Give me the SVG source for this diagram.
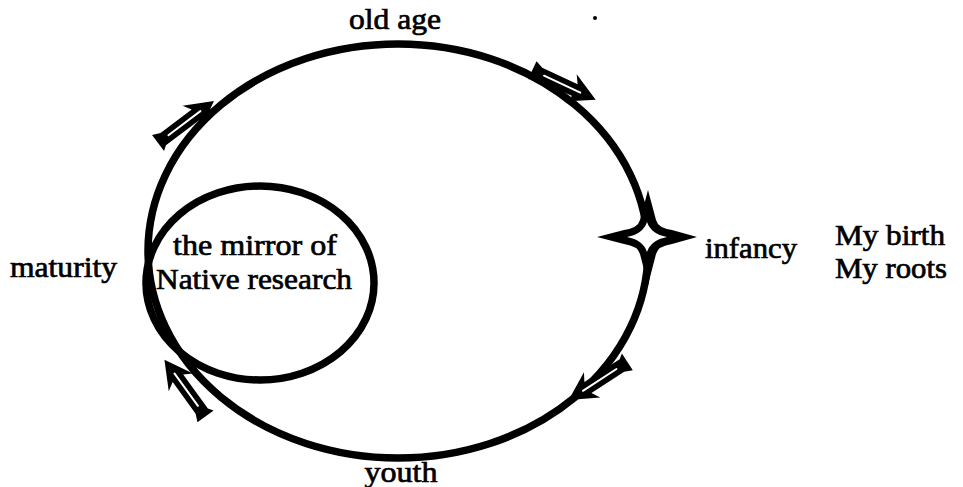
<svg xmlns="http://www.w3.org/2000/svg" width="963" height="487" viewBox="0 0 963 487">
  <style>
    .lbl { font-family: "Liberation Serif", "Times New Roman", serif; font-size: 30px; fill: #000; stroke: #000; stroke-width: 0.7px; }
    .ring { fill: none; stroke: #000; stroke-width: 7.5; }
    .slit { stroke: #fff; stroke-width: 2; stroke-linecap: round; }
  </style>
  <defs>
    <g id="arrow">
      <polygon points="-35,-10 -27,-6.5 12,-6.5 7,-15 35,0 7,15 12,6.5 -30,6.5 -35,10" fill="#000"/>
      <line class="slit" x1="-22" y1="0" x2="18" y2="0"/>
    </g>
  </defs>
  <rect width="963" height="487" fill="#fff"/>
  <g id="cycle">
    <ellipse class="ring" cx="398" cy="251" rx="250" ry="207"/>
  </g>
  <g id="mirror">
    <ellipse class="ring" cx="260" cy="283" rx="114" ry="97"/>
    <text class="lbl" x="255" y="255" text-anchor="middle" textLength="164" lengthAdjust="spacingAndGlyphs">the mirror of</text>
    <text class="lbl" x="254" y="289" text-anchor="middle" textLength="196" lengthAdjust="spacingAndGlyphs">Native research</text>
  </g>
  <g id="connectors">
    <use href="#arrow" transform="translate(564,85) rotate(25)"/>
    <use href="#arrow" transform="translate(598,381) rotate(147)"/>
    <use href="#arrow" transform="translate(185,388) rotate(-126)"/>
    <use href="#arrow" transform="translate(186,122) rotate(-37)"/>
  </g>
  <g id="infancy-star">
    <path d="M597 237 L624 230 Q638 228 640 220 L648 190 L656 220 Q658 228 672 230 L697 237 L672 244 Q658 246 656 254 L648 285 L640 254 Q638 246 624 244 Z" fill="#000"/>
    <path d="M627 237 Q643 234 647 222 Q651 234 667 237 Q651 240 647 252 Q643 240 627 237 Z" fill="#fff"/>
  </g>
  <g id="old-age"><text class="lbl" x="395" y="29" text-anchor="middle" textLength="92" lengthAdjust="spacingAndGlyphs">old age</text></g>
  <g id="youth"><text class="lbl" x="401" y="482" text-anchor="middle" textLength="73" lengthAdjust="spacingAndGlyphs">youth</text></g>
  <g id="maturity"><text class="lbl" x="10" y="277" textLength="107" lengthAdjust="spacingAndGlyphs">maturity</text></g>
  <g id="infancy"><text class="lbl" x="705" y="258" textLength="92" lengthAdjust="spacingAndGlyphs">infancy</text></g>
  <g id="my-birth">
    <text class="lbl" x="835" y="245" textLength="110" lengthAdjust="spacingAndGlyphs">My birth</text>
    <text class="lbl" x="835" y="278" textLength="112" lengthAdjust="spacingAndGlyphs">My roots</text>
  </g>
  <circle cx="595" cy="18" r="2" fill="#000"/>
</svg>
